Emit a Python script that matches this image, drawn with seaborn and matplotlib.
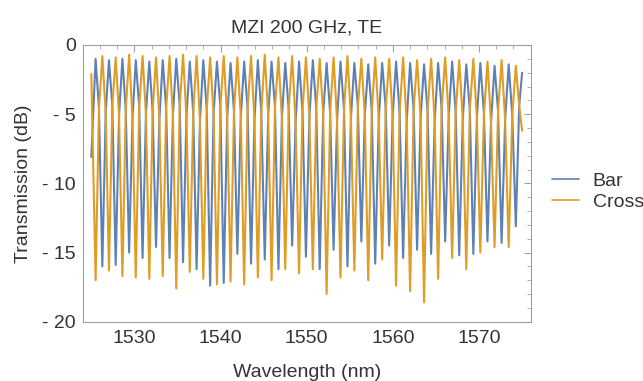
import pandas as pd
import seaborn as sns
import matplotlib
matplotlib.use("Agg")
import matplotlib.pyplot as plt
from matplotlib.ticker import MultipleLocator, FuncFormatter

# Extrema of the two MZI ports.
# Cross dips sit on Bar maxima and Bar dips sit on Cross maxima.
cross_dip_nm = [1525.50, 1527.05, 1528.61, 1530.16, 1531.73, 1533.29, 1534.86, 1536.43,
                1538.00, 1539.58, 1541.16, 1542.74, 1544.33, 1545.92, 1547.51, 1549.11,
                1550.71, 1552.31, 1553.92, 1555.53, 1557.14, 1558.76, 1560.37, 1562.00,
                1563.62, 1565.25, 1566.88, 1568.52, 1570.15, 1571.80, 1573.44]
bar_dip_nm = [1526.28, 1527.83, 1529.39, 1530.95, 1532.51, 1534.08, 1535.65, 1537.22,
              1538.79, 1540.37, 1541.95, 1543.54, 1545.13, 1546.72, 1548.31, 1549.91,
              1551.51, 1553.12, 1554.73, 1556.34, 1557.95, 1559.57, 1561.19, 1562.81,
              1564.44, 1566.07, 1567.70, 1569.34, 1570.98, 1572.62, 1574.27]

cross_dip_db = [-17.0, -16.3, -16.7, -16.8, -16.9, -16.7, -17.6, -16.4, -16.9, -17.3, -17.1,
                -17.3, -16.8, -17.0, -16.2, -16.5, -16.2, -18.0, -16.8, -16.3, -17.0, -15.5,
                -17.4, -17.8, -18.6, -16.9, -15.4, -16.2, -15.0, -14.6, -14.6]
bar_dip_db = [-16.0, -15.9, -15.0, -15.4, -14.6, -15.4, -15.7, -16.2, -17.4, -17.2, -15.1,
              -15.8, -15.5, -16.2, -14.5, -15.3, -16.2, -14.8, -16.0, -14.2, -15.8, -14.5,
              -15.4, -14.8, -15.1, -14.2, -15.2, -15.1, -14.2, -14.3, -13.1]
bar_peak_db = [-1.0, -1.1, -1.0, -1.1, -1.2, -1.1, -1.0, -1.2, -1.1, -1.2, -1.3, -1.2, -1.1,
               -1.2, -1.3, -1.2, -1.1, -1.3, -1.2, -1.3, -1.4, -1.3, -1.2, -1.3, -1.4, -1.3,
               -1.2, -1.4, -1.3, -1.5, -1.4]
cross_peak_db = [-0.8, -0.9, -0.7, -0.8, -0.9, -0.8, -0.7, -0.8, -0.9, -0.8, -0.9, -0.8, -0.7,
                 -0.9, -0.8, -0.9, -1.0, -0.9, -0.8, -1.0, -0.9, -1.0, -0.9, -1.1, -1.0, -0.9,
                 -1.1, -1.0, -1.2, -1.1, -1.5]

# Points where the two ports cross each other (same level on both traces).
crossing_nm = [1525.89, 1526.67, 1527.44, 1528.22, 1529.00, 1529.78, 1530.56, 1531.34,
               1532.12, 1532.90, 1533.69, 1534.47, 1535.26, 1536.04, 1536.83, 1537.61,
               1538.40, 1539.19, 1539.98, 1540.77, 1541.56, 1542.35, 1543.14, 1543.94,
               1544.73, 1545.53, 1546.32, 1547.12, 1547.91, 1548.71, 1549.51, 1550.31,
               1551.11, 1551.91, 1552.72, 1553.52, 1554.33, 1555.13, 1555.94, 1556.74,
               1557.55, 1558.36, 1559.17, 1559.97, 1560.78, 1561.60, 1562.41, 1563.22,
               1564.03, 1564.85, 1565.66, 1566.48, 1567.29, 1568.11, 1568.93, 1569.75,
               1570.57, 1571.39, 1572.21, 1573.03, 1573.86, 1574.66]
crossing_db = [-4.6, -4.9, -4.4, -5.1, -4.7, -5.3, -4.5, -5.0, -4.8, -5.4, -4.6, -5.1,
               -4.4, -5.2, -4.9, -5.5, -4.7, -5.0, -4.5, -5.3, -4.8, -5.2, -4.6, -5.4,
               -4.9, -5.1, -4.5, -5.3, -4.7, -5.6, -4.8, -5.2, -4.6, -5.0, -4.9, -5.5,
               -4.7, -5.3, -4.5, -5.1, -4.8, -5.4, -4.6, -5.2, -4.9, -5.6, -4.7, -5.3,
               -4.8, -5.5, -4.6, -5.2, -4.9, -5.4, -4.7, -5.3, -5.0, -5.6, -4.8, -5.4,
               -5.1, -4.4]

span_nm = [1525.0, 1575.0]
bar_ends_db = [-8.1, -2.0]
cross_ends_db = [-2.1, -6.2]

series = ["Bar", "Cross"]
colors = ["#5e81b5", "#e19c24"]

extrema_nm = []
bar_ext, cross_ext = [], []
for yd, bd, yv, bv, bp, cp in zip(cross_dip_nm, bar_dip_nm, cross_dip_db, bar_dip_db,
                                  bar_peak_db, cross_peak_db):
    extrema_nm += [yd, bd]
    bar_ext += [bp, bv]
    cross_ext += [yv, cp]

wl, bar, cross = [span_nm[0]], [bar_ends_db[0]], [cross_ends_db[0]]
for e, b, c, m, v in zip(extrema_nm, bar_ext, cross_ext, crossing_nm, crossing_db):
    wl += [e, m]
    bar += [b, v]
    cross += [c, v]
wl.append(span_nm[1])
bar.append(bar_ends_db[1])
cross.append(cross_ends_db[1])

df = pd.concat([
    pd.DataFrame({"nm": wl, "db": bar, "port": series[0]}),
    pd.DataFrame({"nm": wl, "db": cross, "port": series[1]}),
])

sns.set_style("white")
plt.rcParams["font.family"] = ["Liberation Sans", "DejaVu Sans"]
text_c = "#333333"
frame_c = "#a0a0a0"

fig = plt.figure(figsize=(6.43, 3.81), dpi=100)
ax = fig.add_axes([0.1286, 0.1556, 0.6968, 0.7263])

sns.lineplot(data=df, x="nm", y="db", hue="port", palette=colors,
             estimator=None, sort=False, linewidth=1.5, ax=ax)

ax.set_xlim(1524, 1576)
ax.set_ylim(-20, 0)
ax.xaxis.set_major_locator(MultipleLocator(10))
ax.xaxis.set_minor_locator(MultipleLocator(2))
ax.yaxis.set_major_locator(MultipleLocator(5))
ax.yaxis.set_minor_locator(MultipleLocator(1))
ax.yaxis.set_major_formatter(FuncFormatter(
    lambda v, p: f"- {abs(v):g}" if v < 0 else f"{v:g}"))

ax.tick_params(which="both", direction="in", top=True, right=True,
               color=frame_c, labelcolor=text_c, labelsize=14)
ax.tick_params(which="major", length=5, width=0.8)
ax.tick_params(which="minor", length=3, width=0.6)
ax.tick_params(axis="x", pad=6)
ax.tick_params(axis="y", pad=5)
for s in ax.spines.values():
    s.set_color(frame_c)
    s.set_linewidth(0.8)

ax.set_title("MZI 200 GHz, TE", fontsize=14, color=text_c, pad=9)
ax.set_xlabel("Wavelength (nm)", fontsize=14, color=text_c, labelpad=12)
ax.set_ylabel("Transmission (dB)", fontsize=14, color=text_c, labelpad=7)

handles, labels = ax.get_legend_handles_labels()
ax.legend(handles, labels, loc="center left", bbox_to_anchor=(0.858, 0.497),
          bbox_transform=fig.transFigure, frameon=False, fontsize=14,
          handlelength=1.4, handletextpad=0.7, labelspacing=0.15,
          borderpad=0, borderaxespad=0, labelcolor=text_c)
for h in ax.get_legend().get_lines():
    h.set_linewidth(1.2)

fig.savefig("out.png", dpi=100)
